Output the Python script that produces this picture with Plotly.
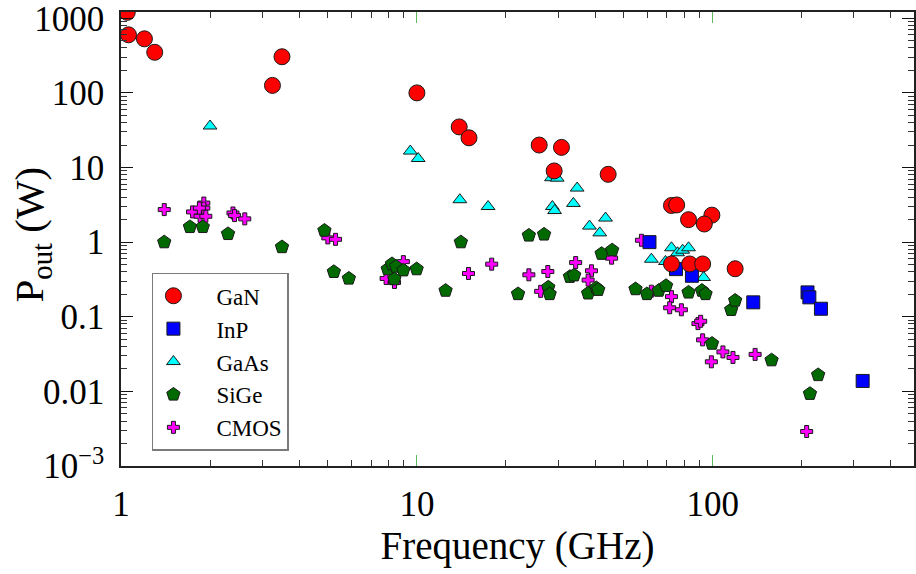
import plotly.graph_objects as go

# ---- data (frequency GHz, output power W) ----
gan_x = [1.05, 1.06, 1.2, 1.3, 3.25, 3.5, 10.0, 13.9, 15.0, 25.9, 30.8, 29.1, 44.3,
         72.5, 75.5, 82.8, 99.3, 93.6, 72.5, 83.5, 92.4, 119]
gan_y = [1200, 600, 530, 350, 126, 305, 100, 35, 25, 20, 18.6, 9.0, 8.1,
         3.1, 3.15, 2.0, 2.3, 1.75, 0.51, 0.51, 0.51, 0.44]

inp_x = [61.1, 75.1, 85.0, 137, 209, 212, 232, 321]
inp_y = [1.0, 0.435, 0.354, 0.156, 0.212, 0.182, 0.128, 0.0138]

gaas_x = [2.0, 9.5, 10.1, 28.5, 29.8, 34.8, 13.97, 17.4, 28.7, 29.2, 33.8, 43.4, 38.3,
          41.5, 62.0, 69.2, 72.5, 76.0, 79.1, 82.8, 93.1]
gaas_y = [36, 16.6, 13.2, 7.3, 7.2, 5.3, 3.7, 3.0, 3.0, 2.65, 3.3, 2.1, 1.64,
          1.33, 0.59, 0.55, 0.84, 0.72, 0.78, 0.84, 0.336]

sige_x = [1.40, 1.71, 1.89, 2.30, 3.50, 4.87, 5.24, 5.89, 7.97, 8.24, 8.5, 9.0, 8.39,
          9.98, 12.5, 14.08, 21.97, 23.9, 26.9, 27.8, 28.1, 32.9, 34.0, 37.9, 40.4,
          41.0, 42.1, 45.7, 54.8, 59.9, 65.7, 69.5, 82.8, 91.9, 94.5, 99.4, 115.4,
          119, 158, 213, 227]
sige_y = [1.0, 1.6, 1.6, 1.29, 0.86, 1.43, 0.40, 0.326, 0.435, 0.51, 0.47, 0.42, 0.32,
          0.435, 0.224, 1.0, 0.202, 1.23, 1.27, 0.248, 0.202, 0.344, 0.36, 0.206, 0.243,
          0.23, 0.70, 0.78, 0.235, 0.202, 0.224, 0.26, 0.212, 0.224, 0.202, 0.0437, 0.124,
          0.165, 0.0262, 0.0093, 0.0166]

cmos_x = [1.40, 1.745, 1.85, 1.905, 1.905, 1.935, 1.84, 2.39, 2.42, 2.62, 5.0, 5.31,
          9.0, 7.87, 8.4, 14.94, 17.9, 23.9, 27.7, 26.2, 34.4, 38.9, 37.9, 45.5, 57.4,
          62.0, 72.5, 71.5, 78.3, 89.1, 91.0, 92.4, 108.2, 117, 98.9, 139, 207.6]
cmos_y = [2.73, 2.54, 2.22, 3.34, 2.86, 2.22, 2.86, 2.46, 2.27, 2.05, 1.14, 1.09,
          0.548, 0.326, 0.288, 0.38, 0.507, 0.365, 0.404, 0.219, 0.532, 0.413, 0.31, 0.61, 1.06,
          0.22, 0.186, 0.132, 0.124, 0.081, 0.087, 0.049, 0.0338, 0.0285, 0.0249, 0.0313, 0.0029]

x_tickvals = [1, 10, 100]
x_ticktext = ["1", "10", "100"]
y_tickvals = [1e-3, 0.01, 0.1, 1, 10, 100, 1000]
y_ticktext = ["10<sup>\u22123</sup>", "0.01", "0.1", "1", "10", "100", "1000"]

FONT = "Liberation Serif"
OUTLINE = dict(color="#1a1a1a", width=1)
PAD = "\u00a0\u00a0\u00a0\u00a0"

fig = go.Figure()
# drawing order: CMOS bottom ... GaN top; legend reversed
fig.add_trace(go.Scatter(x=cmos_x, y=cmos_y, mode="markers", name=PAD + "CMOS",
                         marker=dict(symbol="cross", size=10, color="#ff00ff", line=OUTLINE)))
fig.add_trace(go.Scatter(x=sige_x, y=sige_y, mode="markers", name=PAD + "SiGe",
                         marker=dict(symbol="pentagon", size=14, color="#006a00", line=OUTLINE)))
fig.add_trace(go.Scatter(x=gaas_x, y=gaas_y, mode="markers", name=PAD + "GaAs",
                         marker=dict(symbol="triangle-up", size=12, color="#00ffff", line=OUTLINE)))
fig.add_trace(go.Scatter(x=inp_x, y=inp_y, mode="markers", name=PAD + "InP",
                         marker=dict(symbol="square", size=13, color="#0000ff", line=OUTLINE)))
fig.add_trace(go.Scatter(x=gan_x, y=gan_y, mode="markers", name=PAD + "GaN",
                         marker=dict(symbol="circle", size=16, color="#ff0000", line=OUTLINE)))

minor_x = [m * 10 ** d for d in range(0, 3) for m in range(2, 10)]
minor_y = [m * 10 ** d for d in range(-3, 4) for m in range(2, 10)]

fig.update_xaxes(
    type="log", range=[0, 2.68],
    tickmode="array", tickvals=x_tickvals, ticktext=x_ticktext,
    ticks="inside", ticklen=11, tickwidth=1.2, tickcolor="#5cb85c",
    minor=dict(tickmode="array", tickvals=minor_x, ticks="inside", ticklen=6,
               tickwidth=1, tickcolor="#333333"),
    showline=True, linecolor="#222222", linewidth=1.5, mirror="ticks",
    showgrid=False, zeroline=False,
    tickfont=dict(family=FONT, size=35, color="black"),
    ticklabelstandoff=6, ticklabeloverflow="allow",
    title=dict(text="Frequency (GHz)", font=dict(family=FONT, size=39, color="black"),
               standoff=4),
)
fig.update_yaxes(
    type="log", range=[-3, 3.084],
    tickmode="array", tickvals=y_tickvals, ticktext=y_ticktext,
    ticks="inside", ticklen=12, tickwidth=1.2, tickcolor="#111111",
    minor=dict(tickmode="array", tickvals=minor_y, ticks="inside", ticklen=6,
               tickwidth=1, tickcolor="#333333"),
    showline=True, linecolor="#222222", linewidth=1.5, mirror="ticks",
    showgrid=False, zeroline=False,
    tickfont=dict(family=FONT, size=35, color="black"),
    ticklabelstandoff=8, ticklabeloverflow="allow",
)

fig.add_annotation(
    text="P<sub>out</sub> (W)", textangle=-90, showarrow=False,
    xref="paper", yref="paper", x=(32 - 121) / 795, y=(466.5 - 233) / 457.5,
    xanchor="center", yanchor="middle",
    font=dict(family=FONT, size=41, color="black"),
)

fig.update_layout(
    width=916, height=574,
    margin=dict(l=121, r=0, t=9, b=108),
    paper_bgcolor="white", plot_bgcolor="white",
    font=dict(family=FONT),
    showlegend=True,
    legend=dict(
        traceorder="reversed",
        x=(152 - 121) / 795, y=(466.5 - 361.5) / 457.5,
        xanchor="left", yanchor="middle",
        bgcolor="white", bordercolor="#7a7a7a", borderwidth=1.5,
        font=dict(family=FONT, size=23, color="black"),
        itemsizing="trace",
    ),
)

fig.write_html("out.html")
